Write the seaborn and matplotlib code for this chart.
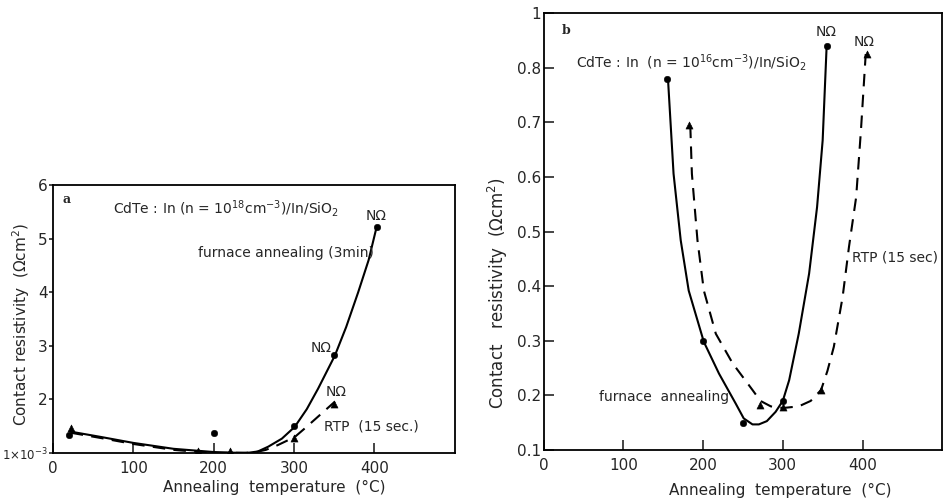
import matplotlib

matplotlib.use("Agg")

import matplotlib.pyplot as plt
import pandas as pd
import seaborn as sns

# panel a: CdTe:In (n = 1e18) -- curves
A_FURN_CURVE_X = [22, 60, 100, 150, 200, 240, 255, 268, 285, 301, 316, 330, 351, 365, 380, 393, 403]
A_FURN_CURVE_Y = [1.40, 1.30, 1.19, 1.08, 1.02, 1.00, 1.03, 1.12, 1.27, 1.49, 1.82, 2.20, 2.82, 3.35, 4.00, 4.60, 5.22]
A_RTP_CURVE_X = [22, 60, 100, 150, 200, 250, 265, 280, 301, 315, 330, 351]
A_RTP_CURVE_Y = [1.38, 1.28, 1.17, 1.06, 1.00, 1.01, 1.06, 1.15, 1.30, 1.48, 1.68, 1.96]
A_FURN_PTS_X = [20, 200, 300, 350, 403]
A_FURN_PTS_Y = [1.33, 1.38, 1.50, 2.82, 5.22]
A_RTP_PTS_X = [22, 180, 220, 300, 350]
A_RTP_PTS_Y = [1.47, 1.04, 1.03, 1.28, 1.92]
A_YTICKS = [1, 2, 3, 4, 5, 6]
A_YTICKLABELS = [r"1$\times$10$^{-3}$", "2", "3", "4", "5", "6"]

# panel b: CdTe:In (n = 1e16)
B_FURN_CURVE_X = [156, 163, 172, 182, 201, 220, 241, 251, 262, 270, 280, 291, 300, 308, 320, 333, 343, 350, 355]
B_FURN_CURVE_Y = [0.78, 0.606, 0.484, 0.392, 0.298, 0.24, 0.185, 0.158, 0.147, 0.147, 0.153, 0.17, 0.19, 0.228,
                  0.313, 0.423, 0.545, 0.667, 0.84]
B_RTP_CURVE_X = [184, 186, 193, 201, 216, 237, 262, 272, 285, 300, 320, 335, 348, 356, 364, 375, 383, 392, 398, 404]
B_RTP_CURVE_Y = [0.694, 0.606, 0.484, 0.392, 0.313, 0.259, 0.21, 0.19, 0.18, 0.177, 0.18, 0.19, 0.21, 0.245,
                 0.289, 0.38, 0.472, 0.563, 0.685, 0.825]
B_FURN_PTS_X = [155, 200, 250, 300, 355]
B_FURN_PTS_Y = [0.78, 0.30, 0.15, 0.19, 0.84]
B_RTP_PTS_X = [183, 272, 300, 348, 405]
B_RTP_PTS_Y = [0.695, 0.183, 0.178, 0.21, 0.825]
B_YTICKS = [0.1, 0.2, 0.3, 0.4, 0.5, 0.6, 0.7, 0.8, 0.9]
B_YTICKLABELS = ["0.1", "0.2", "0.3", "0.4", "0.5", "0.6", "0.7", "0.8", "1"]

XTICKS = [0, 100, 200, 300, 400]

sns.set_style("ticks")
plt.rcParams["font.family"] = ["DejaVu Sans"]

DASH = (0, (6, 4))
TXT = 10


def draw_panel(ax, furn_cx, furn_cy, rtp_cx, rtp_cy, furn_px, furn_py, rtp_px, rtp_py):
    sns.lineplot(x=furn_cx, y=furn_cy, sort=False, color="black", linewidth=1.5, ax=ax)
    sns.lineplot(x=rtp_cx, y=rtp_cy, sort=False, color="black", linewidth=1.5,
                 linestyle=DASH, ax=ax)
    pts = pd.DataFrame({"x": furn_px, "y": furn_py})
    sns.scatterplot(data=pts, x="x", y="y", marker="o", s=22, color="black",
                    edgecolor="black", ax=ax, zorder=3)
    pts = pd.DataFrame({"x": rtp_px, "y": rtp_py})
    sns.scatterplot(data=pts, x="x", y="y", marker="^", s=26, color="black",
                    edgecolor="black", ax=ax, zorder=3)
    for s in ax.spines.values():
        s.set_visible(True)
        s.set_linewidth(1.3)
        s.set_color("black")
    ax.set_xlim(0, 500)
    ax.set_xticks(XTICKS)
    ax.set_xticklabels([str(t) for t in XTICKS], fontsize=11)
    ax.tick_params(axis="x", direction="in", length=7, width=1.2, pad=6)


fig = plt.figure(figsize=(9.47, 5.04), dpi=100)
ax_a = fig.add_axes([0.056, 0.101, 0.424, 0.532])
ax_b = fig.add_axes([0.574, 0.107, 0.421, 0.867])

# panel a
draw_panel(ax_a, A_FURN_CURVE_X, A_FURN_CURVE_Y, A_RTP_CURVE_X, A_RTP_CURVE_Y,
           A_FURN_PTS_X, A_FURN_PTS_Y, A_RTP_PTS_X, A_RTP_PTS_Y)
ax_a.set_ylim(1, 6)
ax_a.set_yticks(A_YTICKS)
ax_a.set_yticklabels(A_YTICKLABELS, fontsize=11)
ax_a.get_yticklabels()[0].set_fontsize(8.5)
ax_a.tick_params(axis="y", direction="out", length=3, width=1.2, pad=1)
ax_a.set_xlabel("Annealing  temperature  (°C)", fontsize=11)
ax_a.xaxis.set_label_coords(0.55, -0.10)
ax_a.set_ylabel("Contact resistivity  (Ωcm$^2$)", fontsize=11)
ax_a.yaxis.set_label_coords(-0.052, 0.48)
ax_a.text(12, 5.72, "a", fontsize=9, fontweight="bold", family="DejaVu Serif", va="center")
ax_a.text(75, 5.57, r"CdTe : In (n = 10$^{18}$cm$^{-3}$)/In/SiO$_2$", fontsize=TXT, va="center")
ax_a.text(402, 5.42, "NΩ", fontsize=TXT, ha="center", va="center")
ax_a.text(180, 4.73, "furnace annealing (3min)", fontsize=TXT, va="center")
ax_a.text(334, 2.96, "NΩ", fontsize=TXT, ha="center", va="center")
ax_a.text(352, 2.14, "NΩ", fontsize=TXT, ha="center", va="center")
ax_a.text(337, 1.49, "RTP  (15 sec.)", fontsize=TXT, va="center")

# panel b
draw_panel(ax_b, B_FURN_CURVE_X, B_FURN_CURVE_Y, B_RTP_CURVE_X, B_RTP_CURVE_Y,
           B_FURN_PTS_X, B_FURN_PTS_Y, B_RTP_PTS_X, B_RTP_PTS_Y)
ax_b.set_ylim(0.1, 0.9)
ax_b.set_yticks(B_YTICKS)
ax_b.set_yticklabels(B_YTICKLABELS, fontsize=11)
ax_b.tick_params(axis="y", direction="in", length=7, width=1.2, pad=2)
ax_b.set_xlabel("Annealing  temperature  (°C)", fontsize=11)
ax_b.xaxis.set_label_coords(0.593, -0.075)
ax_b.set_ylabel("Contact   resistivity  (Ωcm$^2$)", fontsize=12)
ax_b.yaxis.set_label_coords(-0.085, 0.36)
ax_b.text(23, 0.868, "b", fontsize=9, fontweight="bold", family="DejaVu Serif", va="center")
ax_b.text(41, 0.809, r"CdTe : In  (n = 10$^{16}$cm$^{-3}$)/In/SiO$_2$", fontsize=TXT, va="center")
ax_b.text(354, 0.865, "NΩ", fontsize=TXT, ha="center", va="center")
ax_b.text(402, 0.848, "NΩ", fontsize=TXT, ha="center", va="center")
ax_b.text(387, 0.453, "RTP (15 sec)", fontsize=TXT, va="center")
ax_b.text(69, 0.197, "furnace  annealing", fontsize=TXT, va="center")

fig.savefig("out.png", dpi=100)
